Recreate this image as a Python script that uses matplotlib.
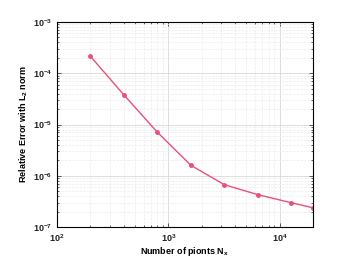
import matplotlib
matplotlib.use("Agg")
from matplotlib import pyplot as plt

# data
n_points = [200, 400, 800, 1600, 3200, 6400, 12800, 20000]
rel_error = [2.14e-4, 3.77e-5, 7.05e-6, 1.6e-6, 6.7e-7, 4.28e-7, 2.98e-7, 2.38e-7]

plt.rcParams['font.family'] = ['Liberation Sans', 'DejaVu Sans']
plt.rcParams['mathtext.default'] = 'regular'

fig = plt.figure(figsize=(3.37, 2.65), dpi=100)
ax = fig.add_axes([0.169, 0.143, 0.76, 0.774])

ax.loglog(n_points, rel_error, '-o', color='#e8507a', lw=1.0, ms=2.5)

ax.set_xlim(100, 20000)
ax.set_ylim(1e-7, 1e-3)

ax.grid(True, which='major', color='#d8d8d8', lw=0.6)
ax.grid(True, which='minor', color='#ececec', lw=0.5, ls='--')
ax.tick_params(which='both', direction='in', top=True, right=True,
               labelsize=6.5, width=0.5, colors='#222222')
ax.tick_params(which='major', length=3)
ax.tick_params(which='minor', length=1.5)
for lbl in ax.get_xticklabels() + ax.get_yticklabels():
    lbl.set_fontweight('bold')
for s in ax.spines.values():
    s.set_linewidth(0.8)

ax.set_xlabel('Number of pionts N$_x$', fontsize=6.5, fontweight='bold', labelpad=1)
ax.set_ylabel('Relative Error with L$_2$ norm', fontsize=6.5, fontweight='bold', labelpad=2)

fig.savefig('out.png', dpi=100)
